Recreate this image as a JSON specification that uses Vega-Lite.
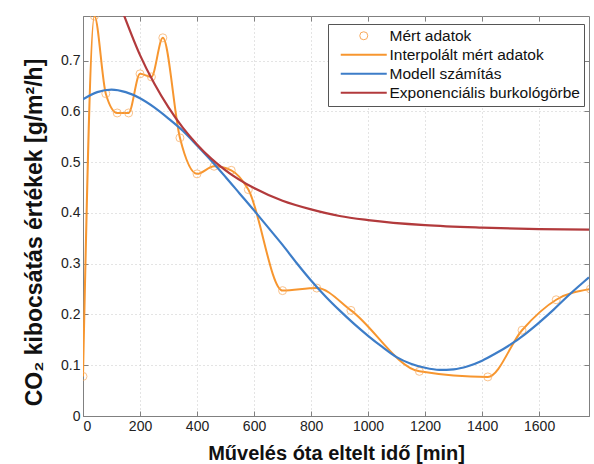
{
  "$schema": "https://vega.github.io/schema/vega-lite/v6.json",
  "autosize": {"type": "none"},
  "padding": {"left": 83, "top": 16, "right": 5, "bottom": 48},
  "width": 506,
  "height": 400,
  "background": "white",
  "config": {
    "font": "Liberation Sans",
    "view": {"stroke": "#808080", "strokeWidth": 1},
    "axis": {
      "labelFont": "Liberation Sans",
      "labelFontSize": 14,
      "labelColor": "#222222",
      "domainColor": "#808080",
      "tickColor": "#808080",
      "gridColor": "#c8c8c8",
      "gridDash": [1, 3],
      "gridWidth": 1,
      "titleFont": "Liberation Sans",
      "titleFontWeight": "bold",
      "titleFontSize": 20,
      "titleColor": "#111111"
    },
    "legend": {
      "orient": "none",
      "legendX": 245,
      "legendY": 8,
      "fillColor": "white",
      "strokeColor": "#555555",
      "padding": 4,
      "labelFont": "Liberation Sans",
      "labelFontSize": 15.5,
      "labelColor": "#111111",
      "labelLimit": 400,
      "symbolType": "stroke",
      "symbolStrokeWidth": 2,
      "rowPadding": 2,
      "symbolOffset": 24,
      "labelOffset": 18
    }
  },
  "datasets": {
    "meas": [
      {"t": 0, "v": 0.078},
      {"t": 40, "v": 0.788},
      {"t": 80, "v": 0.635},
      {"t": 120, "v": 0.597},
      {"t": 160, "v": 0.597},
      {"t": 200, "v": 0.674},
      {"t": 240, "v": 0.668},
      {"t": 280, "v": 0.745},
      {"t": 340, "v": 0.548},
      {"t": 400, "v": 0.477},
      {"t": 460, "v": 0.492},
      {"t": 520, "v": 0.484},
      {"t": 580, "v": 0.446},
      {"t": 700, "v": 0.247},
      {"t": 820, "v": 0.252},
      {"t": 940, "v": 0.208},
      {"t": 1180, "v": 0.088},
      {"t": 1420, "v": 0.077},
      {"t": 1540, "v": 0.169},
      {"t": 1660, "v": 0.229},
      {"t": 1780, "v": 0.250}
    ],
    "model": [
      {"t": 0, "v": 0.624},
      {"t": 50, "v": 0.638},
      {"t": 100, "v": 0.643},
      {"t": 150, "v": 0.638},
      {"t": 200, "v": 0.626},
      {"t": 250, "v": 0.608},
      {"t": 300, "v": 0.586},
      {"t": 350, "v": 0.562},
      {"t": 400, "v": 0.533},
      {"t": 450, "v": 0.503},
      {"t": 500, "v": 0.471},
      {"t": 550, "v": 0.438},
      {"t": 600, "v": 0.405},
      {"t": 650, "v": 0.371},
      {"t": 700, "v": 0.337},
      {"t": 750, "v": 0.301},
      {"t": 800, "v": 0.267},
      {"t": 850, "v": 0.236},
      {"t": 900, "v": 0.208},
      {"t": 950, "v": 0.182},
      {"t": 1000, "v": 0.158},
      {"t": 1050, "v": 0.136},
      {"t": 1100, "v": 0.116},
      {"t": 1150, "v": 0.103},
      {"t": 1200, "v": 0.095},
      {"t": 1250, "v": 0.091},
      {"t": 1300, "v": 0.092},
      {"t": 1350, "v": 0.098},
      {"t": 1400, "v": 0.109},
      {"t": 1450, "v": 0.124},
      {"t": 1500, "v": 0.141},
      {"t": 1550, "v": 0.161},
      {"t": 1600, "v": 0.184},
      {"t": 1650, "v": 0.209},
      {"t": 1700, "v": 0.236},
      {"t": 1750, "v": 0.261},
      {"t": 1775, "v": 0.273}
    ],
    "env": [
      {"t": 140, "v": 0.795},
      {"t": 200, "v": 0.711},
      {"t": 250, "v": 0.655},
      {"t": 300, "v": 0.608},
      {"t": 350, "v": 0.568},
      {"t": 400, "v": 0.535},
      {"t": 450, "v": 0.507},
      {"t": 500, "v": 0.484},
      {"t": 600, "v": 0.449},
      {"t": 700, "v": 0.424},
      {"t": 800, "v": 0.407},
      {"t": 900, "v": 0.394},
      {"t": 1000, "v": 0.386},
      {"t": 1200, "v": 0.376},
      {"t": 1400, "v": 0.371},
      {"t": 1600, "v": 0.368},
      {"t": 1775, "v": 0.367}
    ]
  },
  "layer": [
    {
      "data": {"name": "meas"},
      "mark": {"type": "line", "interpolate": "monotone", "strokeWidth": 2, "clip": true},
      "encoding": {
        "color": {
          "datum": "Interpolált mért adatok",
          "type": "nominal",
          "scale": {
            "domain": ["Mért adatok", "Interpolált mért adatok", "Modell számítás", "Exponenciális burkológörbe"],
            "range": ["#F9A95A", "#F7962F", "#3D7DC8", "#B23A3C"]
          },
          "legend": {
            "title": null,
            "encode": {
              "symbols": {
                "update": {
                  "shape": {"signal": "datum.value === 'Mért adatok' ? 'circle' : 'stroke'"},
                  "size": {"signal": "datum.value === 'Mért adatok' ? 64 : 2116"},
                  "fill": {"value": "transparent"},
                  "strokeWidth": {"signal": "datum.value === 'Mért adatok' ? 1 : 2"}
                }
              }
            }
          }
        },
        "x": {
          "field": "t", "type": "quantitative",
          "scale": {"domain": [0, 1775], "nice": false, "zero": false},
          "axis": {
            "title": "Művelés óta eltelt idő [min]",
            "values": [0, 200, 400, 600, 800, 1000, 1200, 1400, 1600],
            "format": "d",
            "tickSize": -5,
            "labelPadding": 8,
            "titleY": 43,
            "titleBaseline": "alphabetic"
          }
        },
        "y": {
          "field": "v", "type": "quantitative",
          "scale": {"domain": [0, 0.788], "nice": false, "zero": false},
          "axis": {
            "title": "CO₂ kibocsátás értékek [g/m²/h]",
            "titleFontSize": 23,
            "values": [0, 0.1, 0.2, 0.3, 0.4, 0.5, 0.6, 0.7],
            "format": "~g",
            "tickSize": -5,
            "labelPadding": 8,
            "titleX": -42,
            "titleY": 216,
            "titleBaseline": "alphabetic"
          }
        }
      }
    },
    {
      "data": {"name": "meas"},
      "mark": {"type": "point", "shape": "circle", "filled": false, "size": 64, "strokeWidth": 1, "clip": true},
      "encoding": {
        "color": {"datum": "Mért adatok", "type": "nominal"},
        "x": {"field": "t", "type": "quantitative", "axis": null},
        "y": {"field": "v", "type": "quantitative", "axis": null}
      }
    },
    {
      "data": {"name": "model"},
      "mark": {"type": "line", "interpolate": "monotone", "strokeWidth": 2.2, "clip": true},
      "encoding": {
        "color": {"datum": "Modell számítás", "type": "nominal"},
        "x": {"field": "t", "type": "quantitative", "axis": null},
        "y": {"field": "v", "type": "quantitative", "axis": null}
      }
    },
    {
      "data": {"name": "env"},
      "mark": {"type": "line", "interpolate": "monotone", "strokeWidth": 2.2, "clip": true},
      "encoding": {
        "color": {"datum": "Exponenciális burkológörbe", "type": "nominal"},
        "x": {
          "field": "t", "type": "quantitative",
          "axis": {"orient": "top", "values": [0, 200, 400, 600, 800, 1000, 1200, 1400, 1600], "labels": false, "title": null, "grid": false, "domain": false, "tickSize": -5}
        },
        "y": {
          "field": "v", "type": "quantitative",
          "axis": {"orient": "right", "values": [0, 0.1, 0.2, 0.3, 0.4, 0.5, 0.6, 0.7], "labels": false, "title": null, "grid": false, "domain": false, "tickSize": -5}
        }
      }
    }
  ],
  "resolve": {"axis": {"x": "independent", "y": "independent"}}
}
